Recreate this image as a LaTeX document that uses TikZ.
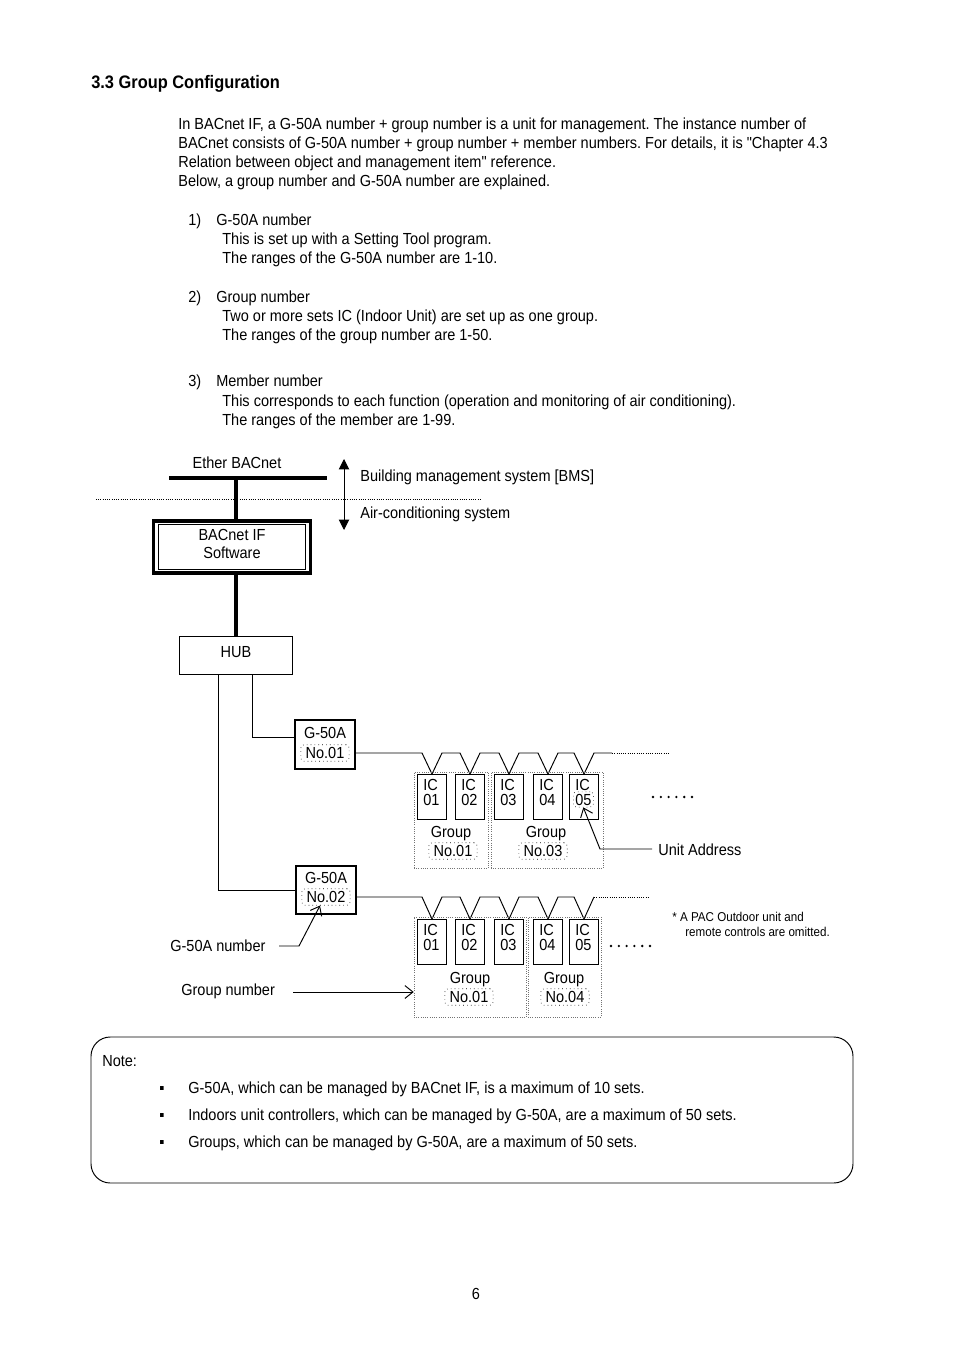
\documentclass[tikz,border=0pt]{standalone}
\usepackage{fontspec}
\setmainfont{Liberation Sans}[FakeStretch=0.905, Ligatures=TeXOff]
\frenchspacing
\usetikzlibrary{calc}
\usetikzlibrary{fit}
\usetikzlibrary{arrows.meta}

\begin{document}
\begin{tikzpicture}[x=0.6237pt, y=-0.6237pt,
	txt/.style={anchor=base west, inner sep=0pt, font=\fontsize{10}{12}\selectfont},
	ctxt/.style={txt, anchor=base},
	small/.style={anchor=base west, inner sep=0pt, font=\fontsize{8}{9.6}\selectfont},
	icbox/.style={draw, line width=0.7pt, anchor=north, minimum width=18.1pt, minimum height=28.1pt, inner sep=0pt},
	grpbox/.style={draw, densely dotted, black!55, line width=0.4pt, inner sep=0pt},
	numbox/.style={draw, dotted, rounded corners=2pt, inner xsep=3pt, inner ysep=1.6pt, font=\fontsize{10}{12}\selectfont},
	gbox/.style={draw, line width=1.3pt, minimum width=37.4pt, minimum height=30.4pt, inner sep=0pt},
	wire/.style={line width=0.6pt},
	arr/.style={wire, -{Straight Barb[length=5pt,width=8pt]}}]

\useasboundingbox (0,0) rectangle (954,1351);

\node[txt, font=\fontsize{11.3}{13}\selectfont\bfseries] at (91,89) (head) {3.3 Group Configuration};

\node[txt] at (178,130) (p1) {In BACnet IF, a G-50A number + group number is a unit for management. The instance number of};
\node[txt] at (178,149) (p2) {BACnet consists of G-50A number + group number + member numbers. For details, it is "Chapter 4.3};
\node[txt] at (178,168) (p3) {Relation between object and management item" reference.};
\node[txt] at (178,187) (p4) {Below, a group number and G-50A number are explained.};

\node[txt] at (188,226) (n1) {1)};
\node[txt] at (216,226) (n1a) {G-50A number};
\node[txt] at (222,245) (n1b) {This is set up with a Setting Tool program.};
\node[txt] at (222,264) (n1c) {The ranges of the G-50A number are 1-10.};
\node[txt] at (188,303) (n2) {2)};
\node[txt] at (216,303) (n2a) {Group number};
\node[txt] at (222,322) (n2b) {Two or more sets IC (Indoor Unit) are set up as one group.};
\node[txt] at (222,341) (n2c) {The ranges of the group number are 1-50.};
\node[txt] at (188,387) (n3) {3)};
\node[txt] at (216,387) (n3a) {Member number};
\node[txt] at (222,406) (n3b) {This corresponds to each function (operation and monitoring of air conditioning).};
\node[txt] at (222,426) (n3c) {The ranges of the member are 1-99.};

% BMS side
\node[ctxt] at (237,468) (ether) {Ether BACnet};
\coordinate (ebl) at (169,478);
\coordinate (ebr) at (327,478);
\draw[line width=2pt] (ebl) -- (ebr);
\draw[densely dotted, line width=0.4pt] (96,499) -- (480,499);
\coordinate (updn1) at (344,459);
\coordinate (updn2) at (344,530);
\draw[wire, {Triangle[width=6.5pt,length=6.5pt]}-{Triangle[width=6.5pt,length=6.5pt]}] (updn1) -- (updn2);
\node[txt] at (360,481) (bms) {Building management system [BMS]};
\node[txt] at (360,518) (acs) {Air-conditioning system};

\node[draw, line width=2.4pt, minimum width=98pt, minimum height=32.4pt, inner sep=0pt] at (232,547) (bif) {};
\node[draw, line width=0.6pt, minimum width=91.5pt, minimum height=27.5pt, inner sep=0pt] at (bif.center) (bifin) {};
\node[ctxt] at (232,540) (bift) {BACnet IF};
\node[ctxt] at (232,558) (bifs) {Software};

\node[draw, line width=0.6pt, minimum width=70.5pt, minimum height=23.7pt, inner sep=0pt] at (236,655.5) (hub) {};
\node[ctxt] at (236,657) (hubt) {HUB};

\coordinate (etap) at (hub.north |- ebl);
\draw[line width=2pt] (etap) -- (etap |- bif.north);
\draw[line width=2pt] (hub.north |- bif.south) -- (hub.north);

% G-50A controllers
\node[gbox] at (325,744.5) (g1) {};
\node[ctxt] at (325,738) (g1t) {G-50A};
\node[numbox] at (325,753) (g1no) {No.01};
\node[gbox] at (326,890) (g2) {};
\node[ctxt] at (326,883) (g2t) {G-50A};
\node[numbox] at (326,897) (g2no) {No.02};

\draw[wire] ($(hub.south)+(16,0)$) |- ($(g1.west)+(0,-7)$);
\draw[wire] ($(hub.south)+(-18,0)$) |- (g2.west);

% indoor units
\newcommand\drawIC[4]{\node[icbox] at (#1,#2) (#4) {};
	\node[txt] at ($(#4.north west)+(6,16)$) (#4t) {IC};
	\node[txt] at ($(#4.north west)+(6,31)$) (#4n) {#3};}

\drawIC{432}{774}{01}{ic11}
\drawIC{470}{774}{02}{ic12}
\drawIC{509}{774}{03}{ic13}
\drawIC{548}{774}{04}{ic14}
\drawIC{584}{774}{05}{ic15}
\drawIC{432}{919}{01}{ic21}
\drawIC{470}{919}{02}{ic22}
\drawIC{509}{919}{03}{ic23}
\drawIC{548}{919}{04}{ic24}
\drawIC{584}{919}{05}{ic25}

\draw[wire] (g1.east |- g1no) \foreach \i in {1,...,5}{ -- ($(ic1\i.north)+(-10,-21)$) -- (ic1\i.north) -- ($(ic1\i.north)+(10,-21)$)} -- ++(18,0) coordinate (bus1);
\draw[densely dotted, line width=0.4pt] (bus1) -- ++(58,0);
\draw[wire] (g2.east |- g2no) \foreach \i in {1,...,5}{ -- ($(ic2\i.north)+(-10,-22)$) -- (ic2\i.north) -- ($(ic2\i.north)+(10,-22)$)} coordinate (bus2);
\draw[densely dotted, line width=0.4pt] (bus2) -- ++(56,0);

% groups
\newcommand\drawGroup[7]{\node[grpbox, fit={(#1,#2) (#3,#4)}] (#7) {};
	\node[ctxt] at (#5,#6) (#7t) {Group};}

\drawGroup{414}{772}{488}{868}{451}{837}{grp11}
\drawGroup{491}{772}{603}{868}{546}{837}{grp13}
\drawGroup{414}{917}{526}{1017}{470}{983}{grp21}
\drawGroup{528}{917}{601}{1017}{564}{983}{grp24}
\node[numbox] at (453,851) (grp11no) {No.01};
\node[numbox] at (543,851) (grp13no) {No.03};
\node[numbox] at (469,997) (grp21no) {No.01};
\node[numbox] at (565,997) (grp24no) {No.04};

\node[draw, dotted, rounded corners=2pt, inner sep=1pt, fit=(ic15n)] (addr) {};

\foreach \i in {0,...,5}
{
	\fill (653+\i*7.8,797) circle (1.3);
	\fill (611+\i*7.8,946) circle (1.3);
}

% labels
\coordinate (uaarr) at (652,849);
\draw[arr] (uaarr) -- (600,849) -- (addr.south);
\node[txt] at (658,855) (ua) {Unit Address};

\node[small] at (672,921) (pac1) {* A PAC Outdoor unit and};
\node[small] at (685,936) (pac2) {remote controls are omitted.};

\node[txt] at (170,951) (g50num) {G-50A number};
\coordinate (g50arr) at (279,946);
\draw[arr] (g50arr) -- ++(20,0) -- ($(g2no.south)+(-6,0)$);

\node[txt] at (181,995) (grpnum) {Group number};
\coordinate (gnarr) at (293,992);
\draw[arr] (gnarr) -- (gnarr -| grp21.west);

% note
\node[draw, line width=0.6pt, rounded corners=12pt, inner sep=0pt, fit={(91,1037) (853,1183)}] (note) {};
\node[txt] at (102,1066) (notet) {Note:};
\node[txt] at (159,1093) (b1) {▪};
\node[txt] at (188,1093) (b1t) {G-50A, which can be managed by BACnet IF, is a maximum of 10 sets.};
\node[txt] at (159,1120) (b2) {▪};
\node[txt] at (188,1120) (b2t) {Indoors unit controllers, which can be managed by G-50A, are a maximum of 50 sets.};
\node[txt] at (159,1147) (b3) {▪};
\node[txt] at (188,1147) (b3t) {Groups, which can be managed by G-50A, are a maximum of 50 sets.};

\node[ctxt] at (476,1299) (page) {6};

\end{tikzpicture}
\end{document}
